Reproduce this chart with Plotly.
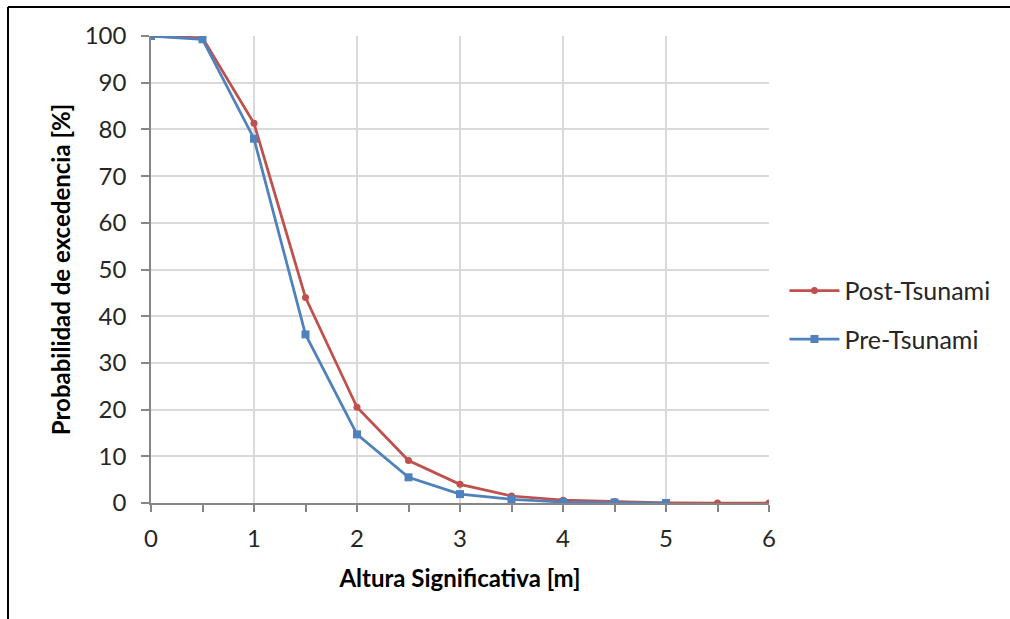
import plotly.graph_objects as go

# Wave height exceedance curves
altura_post = [0, 0.5, 1, 1.5, 2, 2.5, 3, 3.5, 4, 4.5, 5, 5.5, 6]
prob_post = [100, 99.6, 81.3, 44.0, 20.5, 9.1, 4.0, 1.5, 0.6, 0.3, 0.05, 0, 0]

altura_pre = [0, 0.5, 1, 1.5, 2, 2.5, 3, 3.5, 4, 4.5, 5]
prob_pre = [100, 99.3, 78.0, 36.1, 14.7, 5.5, 1.9, 0.8, 0.2, 0.1, 0]

RED = "#C0504D"
BLUE = "#4F81BD"
FONT = "Lato"

fig = go.Figure()
fig.add_trace(go.Scatter(
    x=altura_post, y=prob_post, name="Post-Tsunami", mode="lines+markers",
    line=dict(color=RED, width=2.75),
    marker=dict(symbol="circle", size=7, color=RED),
    legendgroup="post",
))
fig.add_trace(go.Scatter(
    x=altura_pre, y=prob_pre, name="Pre-Tsunami", mode="lines+markers",
    line=dict(color=BLUE, width=2.75),
    marker=dict(symbol="square", size=8, color=BLUE),
    legendgroup="pre",
))

fig.update_layout(
    width=1010, height=619,
    margin=dict(l=151, r=241, t=36, b=116),
    paper_bgcolor="white", plot_bgcolor="white",
    font=dict(family=FONT, color="#262626", size=24),
    showlegend=True,
    legend=dict(
        x=1.025, y=0.403, xanchor="left", yanchor="middle",
        font=dict(size=25, color="#262626"),
        itemwidth=50, tracegroupgap=13, bgcolor="rgba(0,0,0,0)",
    ),
    xaxis=dict(
        range=[0, 6], tickvals=[0, 1, 2, 3, 4, 5, 6],
        showgrid=True, gridcolor="#D9D9D9", gridwidth=1.5,
        showline=True, linecolor="#868686", linewidth=1.5,
        ticks="outside", ticklen=7, tickcolor="#868686", tickwidth=1.5,
        minor=dict(dtick=0.5, ticks="outside", ticklen=7,
                   tickcolor="#868686", tickwidth=1.5, showgrid=False),
        zeroline=False, ticklabelstandoff=6,
        tickfont=dict(size=24, color="#262626"),
        title=dict(text="<b>Altura Significativa [m]</b>",
                   font=dict(size=24, color="#000000"), standoff=20),
    ),
    yaxis=dict(
        range=[0, 100], dtick=10,
        showgrid=True, gridcolor="#D9D9D9", gridwidth=1.5,
        showline=True, linecolor="#868686", linewidth=1.5,
        ticks="outside", ticklen=8, tickcolor="#868686", tickwidth=1.5,
        zeroline=False, ticklabelstandoff=10,
        tickfont=dict(size=24, color="#262626"),
        title=dict(text="<b>Probabilidad de excedencia [%]</b>",
                   font=dict(size=24, color="#000000"), standoff=7),
    ),
    shapes=[
        # chart frame (left and top edges)
        dict(type="line", xref="paper", yref="paper",
             x0=-0.2314, x1=1.45, y0=1.062, y1=1.062,
             line=dict(color="black", width=2)),
        dict(type="line", xref="paper", yref="paper",
             x0=-0.2314, x1=-0.2314, y0=1.062, y1=-0.4,
             line=dict(color="black", width=2)),
    ],
)

fig.write_html("out.html", config={"displayModeBar": False})
